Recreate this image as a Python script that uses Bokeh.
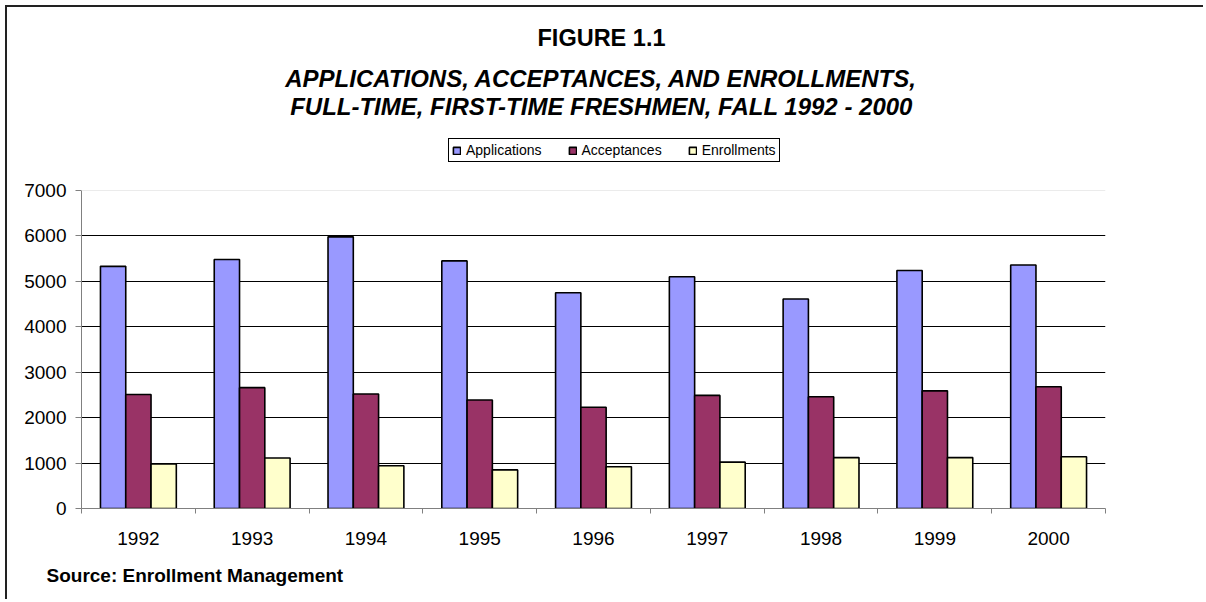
import numpy as np
from bokeh.plotting import figure
from bokeh.models import (ColumnDataSource, Range1d, FixedTicker, Title, Label, Legend,
                          LegendItem, Span)
from bokeh.transform import dodge
from bokeh.embed import file_html
from bokeh.resources import INLINE

# ---- data ----
years = ["1992", "1993", "1994", "1995", "1996", "1997", "1998", "1999", "2000"]
applications = [5330, 5480, 5980, 5450, 4750, 5100, 4610, 5240, 5360]
acceptances = [2510, 2660, 2520, 2390, 2230, 2490, 2460, 2590, 2680]
enrollments = [980, 1110, 940, 850, 920, 1020, 1120, 1120, 1140]
series_names = ["Applications", "Acceptances", "Enrollments"]
series_colors = ["#9999FF", "#993366", "#FFFFCC"]
y_ticks = [0, 1000, 2000, 3000, 4000, 5000, 6000, 7000]

FONT = "Liberation Sans"
W, H = 1198, 594
FL, FR, FB = 74, 1098, 501          # frame left/right/bottom (canvas px)
AXIS_TOP_PX = 183                   # canvas y of the 7000 line
y_max = y_ticks[-1]
# frame extends to the canvas top so the titles/legend live inside it
y_top = y_max * FB / (FB - AXIS_TOP_PX)

idx = list(range(len(years)))
src = ColumnDataSource(dict(x=idx, Applications=applications,
                            Acceptances=acceptances, Enrollments=enrollments))

p = figure(width=W, height=H, output_backend="svg", toolbar_location=None,
           x_range=Range1d(-0.5, len(years) - 0.5), y_range=Range1d(0, y_top),
           min_border_left=FL, min_border_right=W - FR, min_border_top=0,
           min_border_bottom=H - FB)
p.styles = {"margin-left": "5px", "margin-top": "5px",
            "border-top": "2px solid #222222", "border-left": "2px solid #222222",
            "border-right": "0px none", "border-bottom": "0px none"}
p.outline_line_color = None
p.background_fill_color = "white"
p.border_fill_color = "white"

bw = 1 / 4.5
offsets = [-bw, 0, bw]
renderers = []
for name, col, off in zip(series_names, series_colors, offsets):
    r = p.vbar(x=dodge("x", off), top=name, width=bw, bottom=0, source=src,
               fill_color=col, line_color="black", line_width=1.6)
    renderers.append(r)

# axes / grid
p.xgrid.visible = False
p.ygrid.ticker = FixedTicker(ticks=y_ticks[1:-1])
p.ygrid.grid_line_color = "black"
p.ygrid.grid_line_width = 1
p.add_layout(Span(location=y_max, dimension="width", line_color="#ebebeb", line_width=1))

p.yaxis.ticker = FixedTicker(ticks=y_ticks)
p.yaxis.bounds = (0, y_max)
p.yaxis.axis_line_color = "#808080"
p.yaxis.major_tick_line_color = "#808080"
p.yaxis.major_tick_out = 6
p.yaxis.major_tick_in = 0
p.yaxis.minor_tick_line_color = None
p.yaxis.major_label_text_font = FONT
p.yaxis.major_label_text_font_size = "19px"
p.yaxis.major_label_text_color = "black"
p.yaxis.major_label_standoff = 9

p.xaxis.ticker = FixedTicker(ticks=idx, minor_ticks=[i - 0.5 for i in range(len(years) + 1)])
p.xaxis.major_label_overrides = {i: y for i, y in zip(idx, years)}
p.xaxis.axis_line_color = "#808080"
p.xaxis.major_tick_line_color = None
p.xaxis.major_tick_out = 0
p.xaxis.major_tick_in = 0
p.xaxis.minor_tick_line_color = "#808080"
p.xaxis.minor_tick_out = 5
p.xaxis.minor_tick_in = 0
p.xaxis.major_label_text_font = FONT
p.xaxis.major_label_text_font_size = "19px"
p.xaxis.major_label_text_color = "black"
p.xaxis.major_label_standoff = 18

# legend
legend = Legend(items=[LegendItem(label=n, renderers=[r]) for n, r in zip(series_names, renderers)],
                orientation="horizontal", location=(367, 346),
                glyph_width=9, glyph_height=9, label_height=14, label_width=0,
                label_standoff=5, spacing=26, padding=3,
                label_text_font=FONT, label_text_font_size="14px",
                label_text_color="black",
                border_line_color="black", border_line_width=1, border_line_alpha=1,
                background_fill_color="white", background_fill_alpha=1)
p.add_layout(legend, "center")

# titles
p.add_layout(Label(x=592, y=28.5, x_units="canvas", y_units="canvas", text="FIGURE 1.1",
                   text_font=FONT, text_font_size="23.5px", text_font_style="bold",
                   text_color="black", text_align="center", text_baseline="alphabetic"))
p.add_layout(Label(x=592, y=68.5, x_units="canvas", y_units="canvas",
                   text="APPLICATIONS, ACCEPTANCES, AND ENROLLMENTS,",
                   text_font=FONT, text_font_size="24px", text_font_style="bold italic",
                   text_color="black", text_align="center", text_baseline="alphabetic"))
p.add_layout(Label(x=592, y=97, x_units="canvas", y_units="canvas",
                   text="FULL-TIME, FIRST-TIME FRESHMEN, FALL 1992 - 2000",
                   text_font=FONT, text_font_size="24px", text_font_style="bold italic",
                   text_color="black", text_align="center", text_baseline="alphabetic"))
p.add_layout(Title(text="Source: Enrollment Management", align="left", offset=-35,
                   standoff=31, text_font=FONT, text_font_size="19px",
                   text_font_style="bold", text_color="black"), "below")

open("out.html", "w").write(file_html(p, INLINE))
